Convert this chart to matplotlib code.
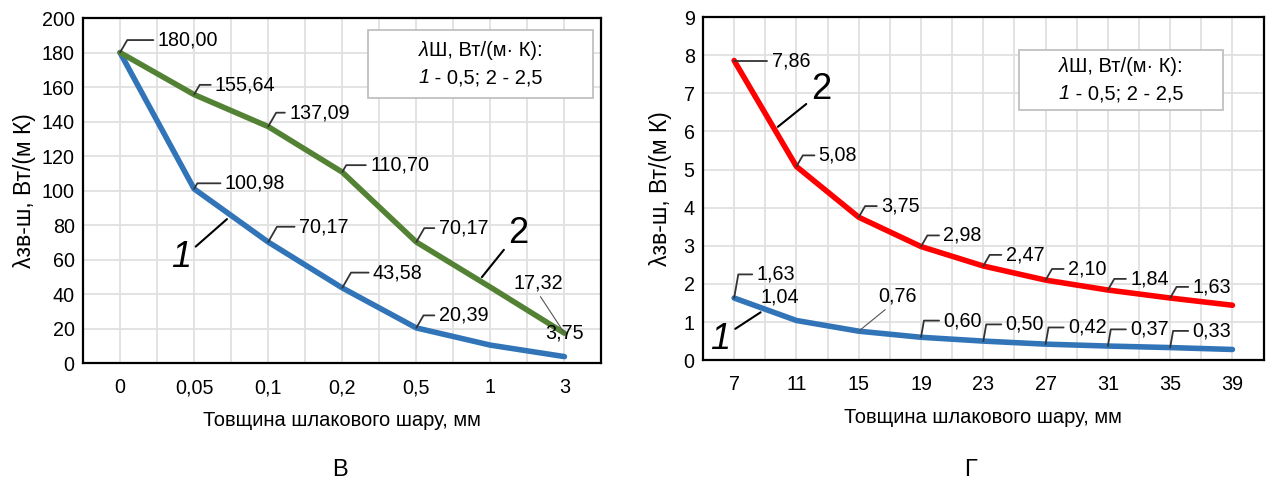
import numpy as np
import matplotlib.pyplot as plt
from matplotlib.patches import Rectangle
from matplotlib.offsetbox import TextArea, HPacker, VPacker, AnnotationBbox

plt.rcParams['font.family'] = ['Liberation Sans', 'DejaVu Sans']

# --- дані: графік В ---
cat_v = ['0', '0,05', '0,1', '0,2', '0,5', '1', '3']
v_line1 = [180.00, 100.98, 70.17, 43.58, 20.39, 10.4, 3.75]
v_line2 = [180.00, 155.64, 137.09, 110.70, 70.17, 44.0, 17.32]

# --- дані: графік Г ---
x_g = [7, 11, 15, 19, 23, 27, 31, 35, 39]
g_line1 = [1.63, 1.04, 0.76, 0.60, 0.50, 0.42, 0.37, 0.33, 0.28]
g_line2 = [7.86, 5.08, 3.75, 2.98, 2.47, 2.10, 1.84, 1.63, 1.44]

BLUE = '#3175b8'
GREEN = '#548235'
RED = '#ff0000'
FS = 14.2
LW = 4.0

fig = plt.figure(figsize=(12.77, 4.88), dpi=100)
ax1 = fig.add_axes([0.065, 0.256, 0.406, 0.707])
ax2 = fig.add_axes([0.5505, 0.262, 0.439, 0.703])


def leader(ax, x, y, txt, dx, dy, angB=60):
    ax.annotate(txt, xy=(x, y), xytext=(dx, dy), textcoords='offset points',
                ha='left', va='center', fontsize=FS,
                arrowprops=dict(arrowstyle='-', color='#333333', lw=1.3,
                                connectionstyle='angle,angleA=0,angleB=%d,rad=0' % angB,
                                relpos=(0.0, 0.5), shrinkA=1, shrinkB=0))


def style(ax):
    for s in ax.spines.values():
        s.set_linewidth(1.6)
        s.set_color('black')
    ax.grid(True, which='both', color='#e0e0e0', lw=1.3)
    ax.set_axisbelow(True)
    ax.tick_params(which='both', length=0, labelsize=FS, pad=6)


def legend_box(ax, x0, y0, x1, y1):
    ax.add_patch(Rectangle((x0, y0), x1 - x0, y1 - y0, transform=ax.transAxes,
                           fc='white', ec='#c0c0c0', lw=1.3, zorder=5))
    tp = dict(fontsize=14.5)
    tpi = dict(fontsize=14.5, style='italic')
    row1 = HPacker(children=[TextArea('λ', textprops=tpi),
                             TextArea('Ш, Вт/(м· К):', textprops=tp)],
                   pad=0, sep=0, align='baseline')
    row2 = HPacker(children=[TextArea('1', textprops=tpi),
                             TextArea(' - 0,5; 2 - 2,5', textprops=tp)],
                   pad=0, sep=0, align='baseline')
    box = VPacker(children=[row1, row2], pad=0, sep=6, align='center')
    ab = AnnotationBbox(box, ((x0 + x1) / 2, (y0 + y1) / 2), xycoords='axes fraction',
                        frameon=False, box_alignment=(0.5, 0.5), zorder=6)
    ax.add_artist(ab)


fmt = lambda v: ('%.2f' % v).replace('.', ',')

# ---------- В ----------
xv = np.arange(len(cat_v))
ax1.plot(xv, v_line1, color=BLUE, lw=LW, solid_capstyle='round')
ax1.plot(xv, v_line2, color=GREEN, lw=LW, solid_capstyle='round')
ax1.set_xlim(-0.5, 6.5)
ax1.set_ylim(0, 200)
ax1.set_xticks(xv)
ax1.set_xticklabels(cat_v)
ax1.set_xticks(np.arange(-0.5, 7, 0.5), minor=True)
ax1.set_yticks(np.arange(0, 201, 20))
style(ax1)
ax1.tick_params(axis='x', pad=11)
ax1.set_xlabel('Товщина шлакового шару, мм', fontsize=14.5, labelpad=10)
ax1.set_ylabel('λзв-ш, Вт/(м К)', fontsize=16.5, labelpad=4)

leader(ax1, xv[0], v_line1[0], fmt(v_line1[0]), 27, 9)
b_off = {1: (22, 4), 2: (22, 11), 3: (22, 11), 4: (16, 9)}
for i, (dx, dy) in b_off.items():
    leader(ax1, xv[i], v_line1[i], fmt(v_line1[i]), dx, dy)
g_off = {1: (15, 7), 2: (15, 10), 3: (20, 5), 4: (16, 10)}
for i, (dx, dy) in g_off.items():
    leader(ax1, xv[i], v_line2[i], fmt(v_line2[i]), dx, dy)
ax1.annotate(fmt(v_line2[6]), xy=(xv[6], v_line2[6]), xytext=(-37, 36),
             textcoords='offset points', ha='left', va='center', fontsize=FS,
             arrowprops=dict(arrowstyle='-', color='#555555', lw=0.8,
                             relpos=(0.5, 0.0), shrinkA=1, shrinkB=0))
ax1.annotate(fmt(v_line1[6]), xy=(xv[6], v_line1[6]), xytext=(0, 17),
             textcoords='offset points', ha='center', va='center', fontsize=FS)

# номери кривих
xa = 1.5
ax1.annotate('1', xy=(xa, np.interp(xa, xv, v_line1)), xytext=(0.82, 61),
             fontsize=26, style='italic', ha='center', va='center',
             arrowprops=dict(arrowstyle='-', color='black', lw=1.5,
                             relpos=(1.0, 0.7), shrinkA=2, shrinkB=4))
xb = 4.85
ax1.annotate('2', xy=(xb, np.interp(xb, xv, v_line2)), xytext=(5.38, 75),
             fontsize=26, ha='center', va='center',
             arrowprops=dict(arrowstyle='-', color='black', lw=1.5,
                             relpos=(0.0, 0.2), shrinkA=2, shrinkB=3))

legend_box(ax1, 0.55, 0.768, 0.983, 0.965)

# ---------- Г ----------
ax2.plot(x_g, g_line1, color=BLUE, lw=LW, solid_capstyle='round')
ax2.plot(x_g, g_line2, color=RED, lw=LW, solid_capstyle='round')
ax2.set_xlim(5, 41)
ax2.set_ylim(0, 9)
ax2.set_xticks(x_g)
ax2.set_xticks(np.arange(5, 42, 2), minor=True)
ax2.set_yticks(np.arange(0, 10, 1))
style(ax2)
ax2.tick_params(axis='x', pad=11)
ax2.set_xlabel('Товщина шлакового шару, мм', fontsize=14.5, labelpad=10)
ax2.set_ylabel('λзв-ш, Вт/(м К)', fontsize=16.5, labelpad=8)

leader(ax2, x_g[0], g_line2[0], fmt(g_line2[0]), 27, 0)
for i in range(1, 8):
    leader(ax2, x_g[i], g_line2[i], fmt(g_line2[i]), 16, 8)
leader(ax2, x_g[0], g_line1[0], fmt(g_line1[0]), 16, 17, angB=80)
ax2.annotate(fmt(g_line1[1]), xy=(x_g[1], g_line1[1]), xytext=(-12, 17),
             textcoords='offset points', ha='center', va='center', fontsize=FS)
ax2.annotate(fmt(g_line1[2]), xy=(x_g[2], g_line1[2]), xytext=(14, 25),
             textcoords='offset points', ha='left', va='center', fontsize=FS,
             arrowprops=dict(arrowstyle='-', color='#555555', lw=0.8,
                             relpos=(0.3, 0.0), shrinkA=1, shrinkB=0))
for i in range(3, 8):
    leader(ax2, x_g[i], g_line1[i], fmt(g_line1[i]), 16, 12, angB=80)

xc = 9.6
ax2.annotate('2', xy=(xc, np.interp(xc, x_g, g_line2)), xytext=(12.6, 7.1),
             fontsize=26, ha='center', va='center',
             arrowprops=dict(arrowstyle='-', color='black', lw=1.5,
                             relpos=(0.0, 0.2), shrinkA=2, shrinkB=3))
xd = 9.0
ax2.annotate('1', xy=(xd, np.interp(xd, x_g, g_line1)), xytext=(6.1, 0.55),
             fontsize=26, style='italic', ha='center', va='center',
             arrowprops=dict(arrowstyle='-', color='black', lw=1.5,
                             relpos=(1.0, 0.7), shrinkA=2, shrinkB=4))

legend_box(ax2, 0.564, 0.729, 0.927, 0.904)

fig.text(0.266, 0.037, 'В', fontsize=17, ha='center', va='center')
fig.text(0.760, 0.037, 'Г', fontsize=17, ha='center', va='center')

fig.savefig('out.png', dpi=100)
